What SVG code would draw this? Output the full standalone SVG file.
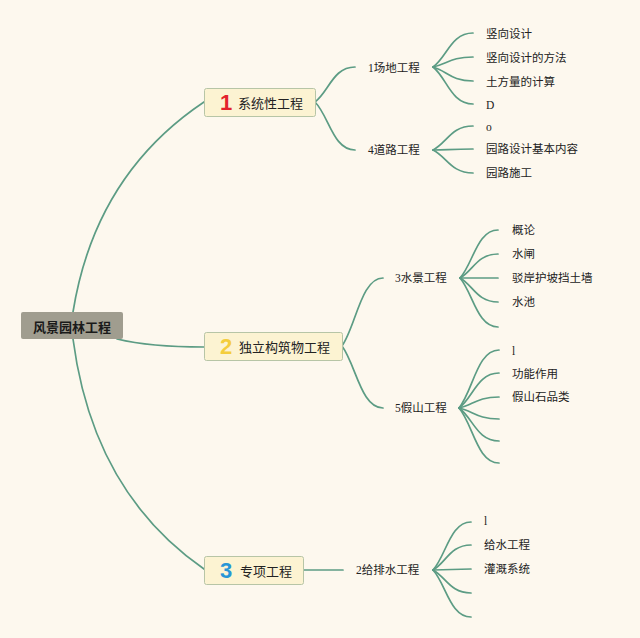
<svg xmlns="http://www.w3.org/2000/svg" width="640" height="638" viewBox="0 0 640 638">
<style>
.bg{fill:#fdf8ee}
.c{fill:none;stroke:#5c9c84;stroke-width:1.7;stroke-linecap:round}
.box{fill:#fcf3d2;stroke:#b7c5a6;stroke-width:1}
.root{fill:#a09d8f}
.t{font-family:"Noto Sans CJK SC","Noto Sans",sans-serif;font-size:13px;fill:#222;dominant-baseline:central}
.rt{font-family:"Noto Sans CJK SC","Noto Sans",sans-serif;font-size:13px;font-weight:bold;fill:#1a1a1a;dominant-baseline:central;text-anchor:middle}
.s{font-family:"Liberation Serif","Noto Sans CJK SC",serif;font-size:11.5px;fill:#222;dominant-baseline:central}
.num{font-family:"Liberation Sans","DejaVu Sans",sans-serif;font-size:22px;font-weight:bold;dominant-baseline:central;text-anchor:middle}
</style>
<rect class="bg" x="0" y="0" width="640" height="638"/>
<g id="connectors">
<path class="c" d="M73,312 Q95,175 204,102"/>
<path class="c" d="M117,339 Q150,347 204,347"/>
<path class="c" d="M73,339 Q93,492 204,569"/>
<path class="c" d="M315,102 C329,91.5 333,67 355,67"/>
<path class="c" d="M315,102 C329,116 333,150 355,150"/>
<path class="c" d="M342,346 C356,326 361,278 383,278"/>
<path class="c" d="M342,346 C356,365 361,408 383,408"/>
<path class="c" d="M303,570 L343,570"/>
<path class="c" d="M433,67 C447,57 451,33 473,33"/>
<path class="c" d="M433,67 C447,64 451,57 473,57"/>
<path class="c" d="M433,67 C447,71 451,81 473,81"/>
<path class="c" d="M433,67 C447,78 451,104 473,104"/>
<path class="c" d="M433,150 C447,143 451,126 473,126"/>
<path class="c" d="M433,150 C447,150 451,149 473,149"/>
<path class="c" d="M433,150 C447,157 451,173 473,173"/>
<path class="c" d="M460,278 C473,264 477,230 498,230"/>
<path class="c" d="M460,278 C473,271 477,254 498,254"/>
<path class="c" d="M460,278 L498,278"/>
<path class="c" d="M460,278 C473,285 477,302 498,302"/>
<path class="c" d="M460,278 C473,293 477,327 498,327"/>
<path class="c" d="M459,408 C473,391 477,350 499,350"/>
<path class="c" d="M459,408 C473,398 477,373 499,373"/>
<path class="c" d="M459,408 C473,405 477,397 499,397"/>
<path class="c" d="M459,408 C473,411 477,419 499,419"/>
<path class="c" d="M459,408 C473,418 477,441 499,441"/>
<path class="c" d="M459,408 C473,424 477,463 499,463"/>
<path class="c" d="M433,570 C446,556 450,522 471,522"/>
<path class="c" d="M433,570 C446,563 450,545 471,545"/>
<path class="c" d="M433,570 L471,569"/>
<path class="c" d="M433,570 C446,577 450,593 471,593"/>
<path class="c" d="M433,570 C446,584 450,617 471,617"/>
</g>
<g id="root">
<rect class="root" x="21" y="312" width="102" height="27" rx="2"/>
<text class="rt" x="72" y="326">风景园林工程</text>
</g>
<g id="n1">
<rect class="box" x="204.5" y="88.5" width="111" height="28" rx="2"/>
<text class="num" x="226" y="102" fill="#e3232c">1</text>
<text class="t" x="238" y="102">系统性工程</text>
</g>
<g id="n2">
<rect class="box" x="204.5" y="332.5" width="138" height="28" rx="2"/>
<text class="num" x="226" y="346" fill="#f4cd3c">2</text>
<text class="t" x="239" y="346">独立构筑物工程</text>
</g>
<g id="n3">
<rect class="box" x="204.5" y="556.5" width="99" height="28" rx="2"/>
<text class="num" x="226" y="570" fill="#2796d6">3</text>
<text class="t" x="240" y="570">专项工程</text>
</g>
<g id="n1a"><text class="s" x="368" y="68">1场地工程</text></g>
<g id="n1b"><text class="s" x="368" y="150">4道路工程</text></g>
<g id="n2a"><text class="s" x="395" y="278">3水景工程</text></g>
<g id="n2b"><text class="s" x="395" y="408">5假山工程</text></g>
<g id="n3a"><text class="s" x="356" y="570">2给排水工程</text></g>
<g id="leaves">
<text class="s" x="486" y="34">竖向设计</text>
<text class="s" x="486" y="58">竖向设计的方法</text>
<text class="s" x="486" y="82">土方量的计算</text>
<text class="s" x="486" y="105">D</text>
<text class="s" x="486" y="127">o</text>
<text class="s" x="486" y="149">园路设计基本内容</text>
<text class="s" x="486" y="173">园路施工</text>
<text class="s" x="512" y="230">概论</text>
<text class="s" x="512" y="254">水闸</text>
<text class="s" x="512" y="278">驳岸护坡挡土墙</text>
<text class="s" x="512" y="302">水池</text>
<text class="s" x="512" y="351">l</text>
<text class="s" x="512" y="374">功能作用</text>
<text class="s" x="512" y="397">假山石品类</text>
<text class="s" x="484" y="521">l</text>
<text class="s" x="484" y="545">给水工程</text>
<text class="s" x="484" y="569">灌溉系统</text>
</g>
</svg>
